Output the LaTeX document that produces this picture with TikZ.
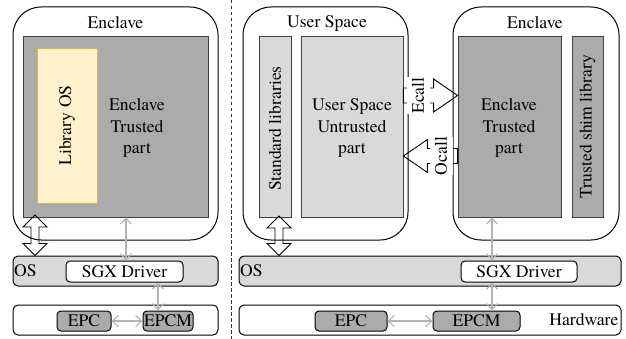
\documentclass[tikz,border=0pt]{standalone}
\usepackage{fontspec}
\setmainfont{texgyretermes}[Extension=.otf, UprightFont=*-regular, BoldFont=*-bold, ItalicFont=*-italic, BoldItalicFont=*-bolditalic]
\usetikzlibrary{fit,arrows.meta,calc}
\definecolor{dgray}{HTML}{ABABAB}
\definecolor{lgray}{HTML}{D9D9D9}
\definecolor{libfill}{HTML}{FFF2CC}
\definecolor{libdraw}{HTML}{D6B656}
\definecolor{conn}{HTML}{B3B3B3}
\newcommand\vblockarrow[2]{%
  \draw[blockarrow] let \p1=(#1), \p2=(#2) in
    (\x1,\y1) -- ({\x1+12pt},{\y1-12pt}) -- ({\x1+4pt},{\y1-12pt})
    -- ({\x1+4pt},{\y2+12pt}) -- ({\x1+12pt},{\y2+12pt}) -- (\x1,\y2)
    -- ({\x1-12pt},{\y2+12pt}) -- ({\x1-4pt},{\y2+12pt})
    -- ({\x1-4pt},{\y1-12pt}) -- ({\x1-12pt},{\y1-12pt}) -- cycle;}
\newcommand\hblockarrow[2]{%
  \draw[blockarrow] let \p1=(#1), \p2=(#2), \p3=($(#2)!24pt!(#1)$) in
    (\x1,{\y2+7.5pt}) -- (\x3,{\y2+7.5pt}) -- (\x3,{\y2+16.5pt}) -- (\x2,\y2)
    -- (\x3,{\y2-16.5pt}) -- (\x3,{\y2-7.5pt}) -- (\x1,{\y2-7.5pt}) -- cycle;}
\begin{document}
\begin{tikzpicture}[x=1pt,y=-1pt,
  font=\fontsize{17.6}{21.5}\selectfont,
  box/.style={draw=black, line width=1pt, inner sep=0pt},
  region/.style={box, fill=white, rounded corners=28pt},
  bar/.style={box, rounded corners=5pt},
  smallbox/.style={box, rounded corners=4pt},
  darkpart/.style={box, fill=dgray, draw=black!75, line width=0.8pt},
  lightpart/.style={box, fill=lgray, draw=black!75, line width=0.8pt},
  libpart/.style={box, fill=libfill, draw=libdraw, line width=0.8pt},
  link/.style={draw=conn, line width=1.1pt,
    {Straight Barb[length=6pt,width=11pt]}-{Straight Barb[length=6pt,width=11pt]}},
  blockarrow/.style={draw=black, line width=0.9pt, line join=miter},
  txt/.style={inner sep=0pt, align=center},
  calllabel/.style={fill=white, inner sep=0pt, rotate=90, minimum height=23pt, minimum width=35pt},
  divider/.style={draw=black!80, line width=1pt, dash pattern=on 3.5pt off 2.5pt},
]
\useasboundingbox (0,0) rectangle (626,339);

% divider
\coordinate (divTop) at (231,0);
\coordinate (divBot) at (231,339);
\draw[divider] (divTop) -- (divBot);

% ---------- left half ----------
\node[region, fit={(13,7)(218,240)}] (encL) {};
\node[txt] (encLlbl) at (115.5,23) {Enclave};
\node[darkpart, fit={(23,36)(208,217)}] (trustL) {};
\node[libpart, fit={(37,48)(97,203)}] (libos) {};
\node[txt, rotate=90] (libosLbl) at (libos.center) {Library OS};
\node[txt] (trustLlbl) at (137,128) {Enclave\\Trusted\\part};

\node[bar, fill=lgray, fit={(13,256)(218,286)}] (osL) {};
\node[txt, anchor=west] (osLlbl) at ([xshift=1.5pt]osL.west) {OS};
\node[smallbox, fill=white, fit={(66,261)(183,282)}] (sgxL) {};
\node[txt] (sgxLlbl) at (sgxL.center) {SGX Driver};

\node[bar, fill=white, fit={(13,305)(218,335)}] (hwL) {};
\node[smallbox, fill=dgray, fit={(57,311)(111,331)}] (epcL) {};
\node[txt] (epcLlbl) at (epcL.center) {EPC};
\node[smallbox, fill=dgray, fit={(143,311)(193,331)}] (epcmL) {};
\node[txt] (epcmLlbl) at (epcmL.center) {EPCM};

\coordinate (lArr1) at (126,0);
\coordinate (lArr2) at (158,0);
\draw[link] (trustL.south -| lArr1) -- (sgxL.north -| lArr1);
\draw[link] (sgxL.south -| lArr2) -- (epcmL.north -| lArr2);
\draw[link] (epcL.east) -- (epcmL.west);

\coordinate (lBlkTop) at (35,215);
\coordinate (lBlkBot) at (osL.north -| lBlkTop);
\vblockarrow{lBlkTop}{lBlkBot}

% ---------- right half ----------
\node[region, fit={(243,7)(408,240)}] (usr) {};
\node[txt] (usrLbl) at (327,23) {User Space};
\node[lightpart, fit={(259,36)(291,217)}] (stdlib) {};
\node[txt, rotate=90] (stdlibLbl) at ([yshift=-2pt]stdlib.center) {Standard libraries};
\node[lightpart, fit={(301,36)(403,217)}] (untr) {};
\node[txt] (untrLbl) at (352,128) {User Space\\Untrusted\\part};

\node[region, fit={(453,7)(619,240)}] (encR) {};
\node[txt] (encRlbl) at (535,23) {Enclave};
\node[darkpart, fit={(458,36)(561,217)}] (trustR) {};
\node[txt] (trustRlbl) at (509,128) {Enclave\\Trusted\\part};
\node[darkpart, fit={(572,36)(603,217)}] (shim) {};
\node[txt, rotate=90] (shimLbl) at (shim.center) {Trusted shim library};

\node[bar, fill=lgray, fit={(239,256)(621,286)}] (osR) {};
\node[txt, anchor=west] (osRlbl) at ([xshift=1.5pt]osR.west) {OS};
\node[smallbox, fill=white, fit={(461,261)(577,282)}] (sgxR) {};
\node[txt] (sgxRlbl) at (sgxR.center) {SGX Driver};

\node[bar, fill=white, fit={(239,305)(621,335)}] (hwR) {};
\node[txt, anchor=east] (hwRlbl) at ([xshift=-3pt]hwR.east) {Hardware};
\node[smallbox, fill=dgray, fit={(315,311)(387,331)}] (epcR) {};
\node[txt] (epcRlbl) at (epcR.center) {EPC};
\node[smallbox, fill=dgray, fit={(433,311)(520,331)}] (epcmR) {};
\node[txt] (epcmRlbl) at (epcmR.center) {EPCM};

\coordinate (rArr) at (492,0);
\draw[link] (trustR.south -| rArr) -- (sgxR.north -| rArr);
\draw[link] (sgxR.south -| rArr) -- (epcmR.north -| rArr);
\draw[link] (epcR.east) -- (epcmR.west);

\coordinate (rBlkTop) at (279,216);
\coordinate (rBlkBot) at (osR.north -| rBlkTop);
\vblockarrow{rBlkTop}{rBlkBot}

% Ecall / Ocall
\coordinate (ecY) at (0,95.5);
\coordinate (ocY) at (0,156);
\hblockarrow{untr.east |- ecY}{trustR.west |- ecY}
\hblockarrow{trustR.west |- ocY}{untr.east |- ocY}
\node[calllabel] (ecallLbl) at (418,95.5) {Ecall};
\node[calllabel] (ocallLbl) at (441,156) {Ocall};
\end{tikzpicture}
\end{document}
